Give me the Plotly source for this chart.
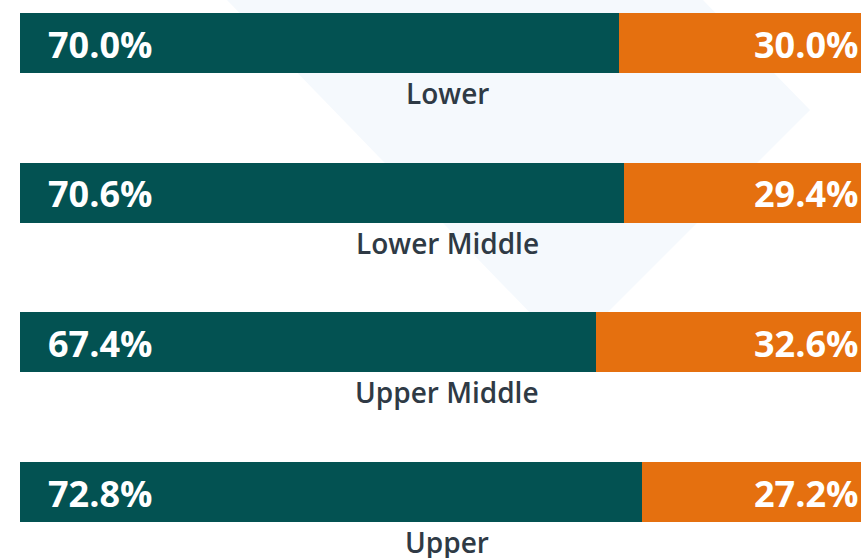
import plotly.graph_objects as go

categories = ["Lower", "Lower Middle", "Upper Middle", "Upper"]
share_a = [70.0, 70.6, 67.4, 72.8]
share_b = [30.0, 29.4, 32.6, 27.2]

TEAL = "#035252"
ORANGE = "#E5700F"
LABEL = "#2F3A45"
SHAPE = "#F5F9FD"

W, H = 861, 558
L = 20
PW = W - L

fig = go.Figure()
fig.add_trace(go.Bar(y=categories, x=share_a, orientation="h", marker=dict(color=TEAL, line=dict(width=0)),
                     width=0.401, hoverinfo="skip"))
fig.add_trace(go.Bar(y=categories, x=share_b, orientation="h", marker=dict(color=ORANGE, line=dict(width=0)),
                     width=0.401, hoverinfo="skip"))

def px(x, y):
    return (x - L) / PW, 1 - y / H

pts = [px(227, 0), px(568, 352), px(810, 110), px(703, 0)]
path = "M " + " L ".join(f"{a:.4f},{b:.4f}" for a, b in pts) + " Z"
fig.add_shape(type="path", path=path, xref="paper", yref="paper", fillcolor=SHAPE,
              line=dict(width=0), layer="below")

ann = []
for c, a, b in zip(categories, share_a, share_b):
    ann.append(dict(x=0, y=c, xref="x", yref="y", text=f"{a:.1f}%", showarrow=False,
                    xanchor="left", xshift=26, yshift=-1,
                    font=dict(family="Open Sans", size=36, color="white", weight=700)))
    ann.append(dict(x=1, y=c, xref="paper", yref="y", text=f"{b:.1f}%", showarrow=False,
                    xanchor="right", xshift=-1, yshift=-1,
                    font=dict(family="Open Sans", size=36, color="white", weight=700)))
    ann.append(dict(x=(447 - L) / PW, y=c, xref="paper", yref="y", text=c, showarrow=False,
                    xanchor="center", yshift=-50,
                    font=dict(family="Open Sans", size=28, color=LABEL, weight=600)))

fig.update_layout(
    width=W, height=H, barmode="stack", showlegend=False,
    margin=dict(l=L, r=0, t=0, b=0),
    paper_bgcolor="white", plot_bgcolor="rgba(0,0,0,0)",
    xaxis=dict(range=[0, 100 * PW / 855], visible=False, fixedrange=True),
    yaxis=dict(range=[3.441, -0.2873], visible=False, fixedrange=True),
    annotations=ann,
)
fig.write_html("out.html", config={"displayModeBar": False},
               post_script="document.body.style.margin='0';document.body.style.overflow='hidden';")
